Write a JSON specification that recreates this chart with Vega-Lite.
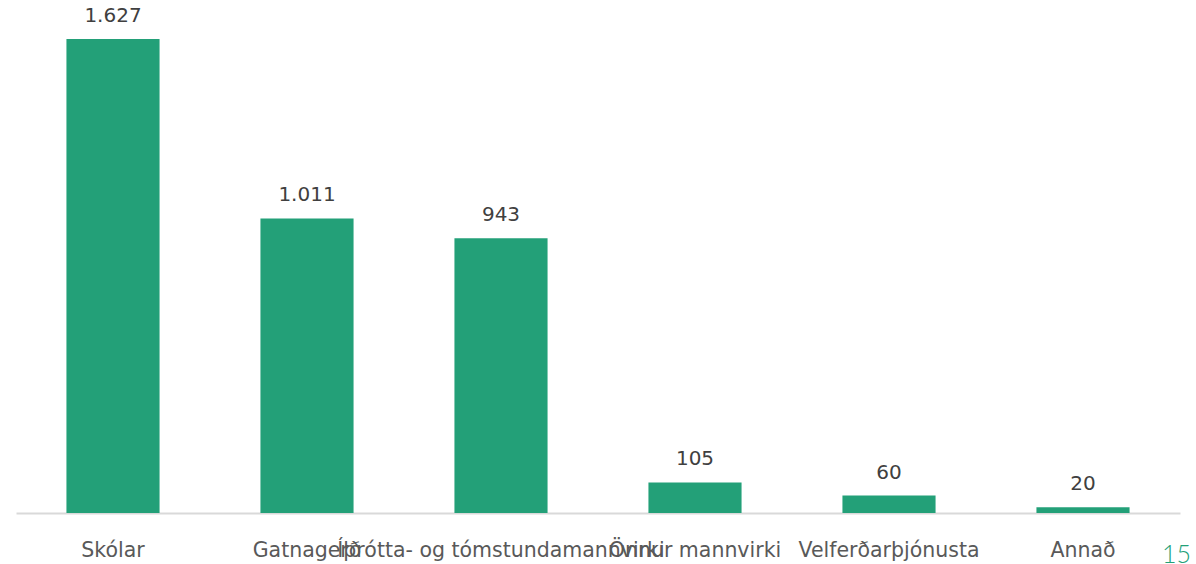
{
  "$schema": "https://vega.github.io/schema/vega-lite/v6.json",
  "width": 1164,
  "height": 513,
  "autosize": {"type": "none"},
  "padding": {"left": 16, "top": 0, "right": 16, "bottom": 51},
  "background": "white",
  "config": {
    "view": {"stroke": null},
    "font": "DejaVu Sans",
    "locale": {"number": {"decimal": ",", "thousands": ".", "grouping": [3], "currency": ["", " kr."]}}
  },
  "title": {
    "text": "15",
    "orient": "bottom",
    "anchor": "end",
    "frame": "group",
    "baseline": "alphabetic",
    "color": "#23a078",
    "font": "Lato",
    "fontWeight": 300,
    "fontSize": 25,
    "offset": 2,
    "dx": 11
  },
  "data": {
    "values": [
      {"flokkur": "Skólar", "fjoldi": 1627},
      {"flokkur": "Gatnagerð", "fjoldi": 1011},
      {"flokkur": "Íþrótta- og tómstundamannvirki", "fjoldi": 943},
      {"flokkur": "Önnur mannvirki", "fjoldi": 105},
      {"flokkur": "Velferðarþjónusta", "fjoldi": 60},
      {"flokkur": "Annað", "fjoldi": 20}
    ]
  },
  "encoding": {
    "x": {
      "field": "flokkur",
      "type": "nominal",
      "sort": null,
      "scale": {"paddingInner": 0.52, "paddingOuter": 0.26},
      "axis": {
        "title": null,
        "labelAngle": 0,
        "labelFontSize": 20.5,
        "labelColor": "#595959",
        "labelPadding": 27,
        "labelOverlap": false,
        "labelLimit": 0,
        "ticks": false,
        "domainColor": "#d9d9d9",
        "domainWidth": 2
      }
    },
    "y": {
      "field": "fjoldi",
      "type": "quantitative",
      "scale": {"domain": [0, 1761]},
      "axis": null
    }
  },
  "layer": [
    {"mark": {"type": "bar", "color": "#23a078"}},
    {
      "mark": {"type": "text", "baseline": "alphabetic", "dy": -17, "fontSize": 20, "color": "#404040"},
      "encoding": {"text": {"field": "fjoldi", "type": "quantitative", "format": ",.0f"}}
    }
  ]
}
